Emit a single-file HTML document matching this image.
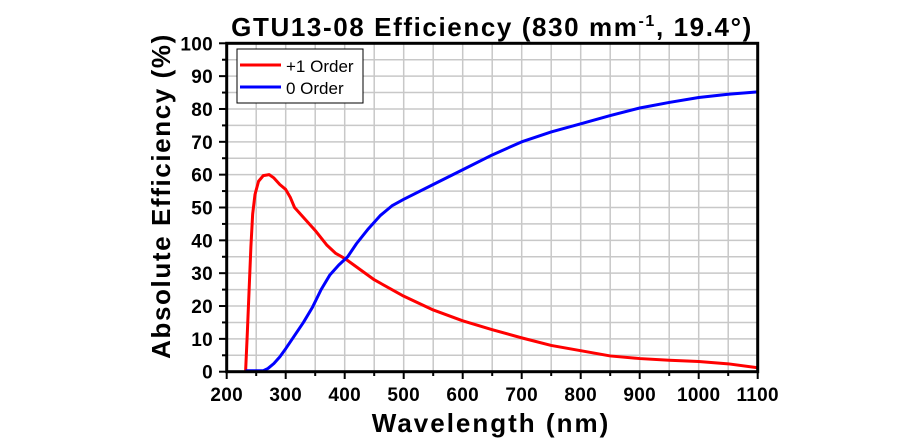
<!DOCTYPE html>
<html><head><meta charset="utf-8"><style>
body{margin:0;background:#fff;}
svg text{font-family:"Liberation Sans",Arial,sans-serif;font-weight:bold;fill:#000;}
</style></head><body>
<svg id="s" width="924" height="440" xmlns="http://www.w3.org/2000/svg">
<g id="grid" stroke="#c8c8c8" stroke-width="1.5"></g>
<g id="ticks" stroke="#000" stroke-width="2"></g>
<polyline id="red" fill="none" stroke="#ff0000" stroke-width="3" stroke-linejoin="round"/>
<polyline id="blue" fill="none" stroke="#0000ff" stroke-width="3" stroke-linejoin="round"/>
<rect x="226.7" y="43.3" width="531" height="328.4" fill="none" stroke="#000" stroke-width="3"/>
<rect x="237" y="49" width="126" height="54" fill="#fff" stroke="#000" stroke-width="1"/>
<line x1="240" y1="65" x2="281" y2="65" stroke="#ff0000" stroke-width="3"/>
<line x1="240" y1="87" x2="281" y2="87" stroke="#0000ff" stroke-width="3"/>
<text x="286" y="72" font-size="17" style="font-weight:normal">+1 Order</text>
<text x="286" y="94" font-size="17" style="font-weight:normal">0 Order</text>
<text x="492" y="36" font-size="26" text-anchor="middle" letter-spacing="1.6">GTU13-08 Efficiency (830 mm<tspan dy="-10" font-size="16">-1</tspan><tspan dy="10">, 19.4°)</tspan></text>
<text x="491" y="432" font-size="26" text-anchor="middle" letter-spacing="2">Wavelength (nm)</text>
<text transform="translate(170,196) rotate(-90)" font-size="26" text-anchor="middle" letter-spacing="1.6">Absolute Efficiency (%)</text>
<g id="labels" font-size="19" letter-spacing="0.3"></g>
</svg>
<script>
const X=w=>226.7+(w-200)*0.59, Y=v=>371.7-v*3.284;
const ns="http://www.w3.org/2000/svg";
const g=document.getElementById('grid'),t=document.getElementById('ticks'),l=document.getElementById('labels');
function el(p,n,a,txt){const e=document.createElementNS(ns,n);for(const k in a)e.setAttribute(k,a[k]);if(txt!==undefined)e.textContent=txt;p.appendChild(e);}
for(let w=250;w<1100;w+=50)el(g,'line',{x1:X(w),x2:X(w),y1:43,y2:371});
for(let v=5;v<100;v+=5)el(g,'line',{x1:227,x2:757,y1:Y(v),y2:Y(v)});
for(let w=200;w<=1100;w+=50){el(t,'line',{x1:X(w),x2:X(w),y1:371.7,y2:w%100?376:379});}
for(let v=0;v<=100;v+=5){el(t,'line',{x1:226.7,x2:v%10?222:219,y1:Y(v),y2:Y(v)});}
for(let w=200;w<=1100;w+=100)el(l,'text',{x:X(w),y:401,'text-anchor':'middle'},w);
for(let v=0;v<=100;v+=10)el(l,'text',{x:213,y:Y(v)+7,'text-anchor':'end'},v);
const red=[[232,0],[235,12],[238,25],[241,38],[244,48],[248,54],[254,58],[262,59.7],[272,60],[280,59],[290,57],[300,55.5],[308,53],[315,50],[330,47],[350,43],[370,38.5],[385,36],[400,34.5],[450,28],[500,23],[550,18.8],[600,15.5],[650,12.8],[700,10.3],[750,8],[800,6.4],[850,4.8],[900,4],[950,3.5],[1000,3.1],[1050,2.4],[1100,1.2]];
const blue=[[232,0.3],[262,0.3],[270,1],[280,2.5],[290,4.5],[300,7],[315,11],[330,15],[345,19.5],[360,25],[375,29.5],[390,32.5],[405,35],[420,39],[440,43.5],[460,47.5],[480,50.5],[500,52.5],[550,57],[600,61.5],[650,66],[700,70],[750,73],[800,75.5],[850,78],[900,80.3],[950,82],[1000,83.5],[1050,84.5],[1100,85.2]];
document.getElementById('red').setAttribute('points',red.map(p=>X(p[0])+','+Y(p[1])).join(' '));
document.getElementById('blue').setAttribute('points',blue.map(p=>X(p[0])+','+Y(p[1])).join(' '));
</script>
</body></html>
